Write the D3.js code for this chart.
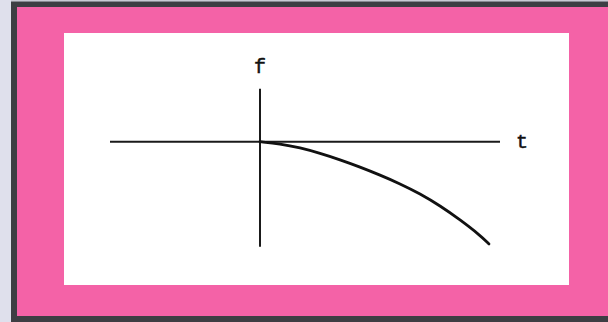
<!DOCTYPE html>
<html>
<head>
<meta charset="utf-8">
<script src="https://cdn.jsdelivr.net/npm/d3@7/dist/d3.min.js"></script>
<style>
  html, body { margin: 0; padding: 0; background: #dfe0ec; }
  svg { display: block; }
</style>
</head>
<body>
<svg id="chart" width="608" height="322"></svg>
<script>
// Axis extents (in t / f units)
const tExtent = [-1.5, 2.4];
const fExtent = [-1.05, 0.53];
// Axis labels
const axisLabels = ["t", "f"];
// Curve samples
const curveT = [0, 0.2, 0.4, 0.6, 0.8, 1.0, 1.2, 1.4, 1.6, 1.8, 2.0, 2.2, 2.29];
const curveF = [0, -0.02, -0.06, -0.115, -0.18, -0.253, -0.333, -0.42, -0.52, -0.64, -0.78, -0.935, -1.022];

const svg = d3.select("#chart");

// frame
svg.append("rect").attr("x", 0).attr("y", 0).attr("width", 608).attr("height", 322).attr("fill", "#dfe0ec");
svg.append("rect").attr("x", 11).attr("y", 0).attr("width", 597).attr("height", 1.5).attr("fill", "#c9cad4");
svg.append("rect").attr("x", 11).attr("y", 1.5).attr("width", 597).attr("height", 320.5).attr("fill", "#3d3e43");
svg.append("rect").attr("x", 17).attr("y", 7).attr("width", 591).attr("height", 309).attr("fill", "#f462a7");
svg.append("rect").attr("x", 64).attr("y", 33).attr("width", 505).attr("height", 252).attr("fill", "#ffffff");

const x = d3.scaleLinear().domain(tExtent).range([110, 500]);
const y = d3.scaleLinear().domain(fExtent).range([246.7, 88.7]);

const g = svg.append("g");

// horizontal t axis
g.append("line")
  .attr("x1", x(tExtent[0])).attr("x2", x(tExtent[1]))
  .attr("y1", y(0)).attr("y2", y(0))
  .attr("stroke", "#1a1a1a").attr("stroke-width", 2);

// vertical f axis
g.append("line")
  .attr("x1", x(0)).attr("x2", x(0))
  .attr("y1", y(fExtent[0])).attr("y2", y(fExtent[1]))
  .attr("stroke", "#1a1a1a").attr("stroke-width", 2);

// curve
const pts = curveT.map((t, i) => [t, curveF[i]]);
const line = d3.line().x(d => x(d[0])).y(d => y(d[1])).curve(d3.curveBasis);
g.append("path")
  .attr("d", line(pts))
  .attr("fill", "none")
  .attr("stroke", "#111")
  .attr("stroke-width", 2.8)
  .attr("stroke-linecap", "round");

// labels
const labelStyle = sel => sel
  .attr("text-anchor", "middle")
  .attr("font-family", "Liberation Mono, Courier New, monospace")
  .attr("font-size", 20)
  .attr("fill", "#111")
  .attr("stroke", "#111")
  .attr("stroke-width", 0.5);

g.append("text")
  .attr("x", x(tExtent[1]) + 22).attr("y", y(0) + 6)
  .call(labelStyle)
  .text(axisLabels[0]);

g.append("text")
  .attr("x", x(0)).attr("y", y(fExtent[1]) - 16)
  .call(labelStyle)
  .text(axisLabels[1]);
</script>
</body>
</html>
